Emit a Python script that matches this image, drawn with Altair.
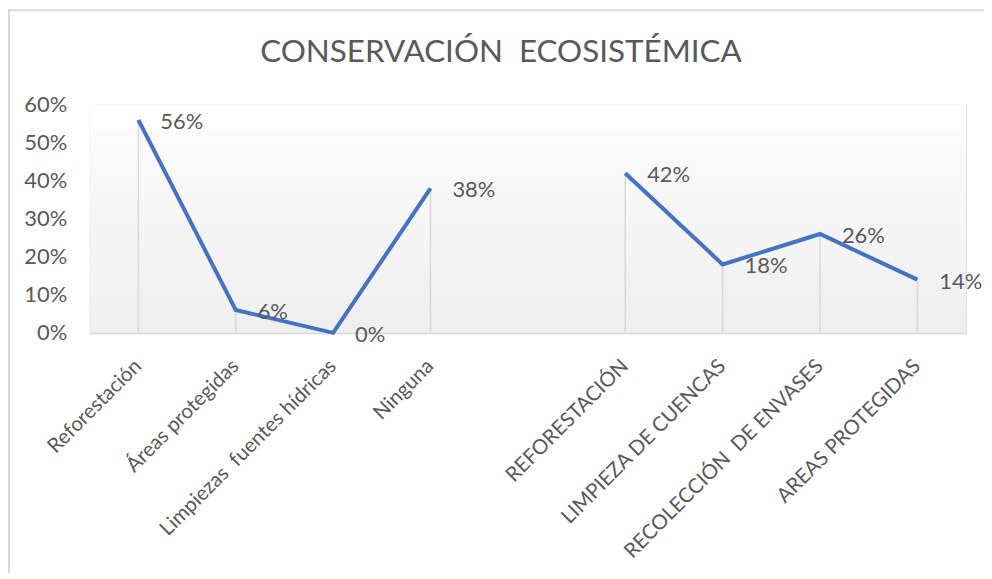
import altair as alt
import pandas as pd

NB = "\u00a0"
# Data
titulo = "CONSERVACIÓN" + NB + " ECOSISTÉMICA"
categorias = ["Reforestación", "Áreas protegidas", "Limpiezas" + NB + " fuentes hídricas", "Ninguna",
              " ",
              "REFORESTACIÓN", "LIMPIEZA DE CUENCAS", "RECOLECCIÓN" + NB + " DE ENVASES", "AREAS PROTEGIDAS"]
puntos_cat = ["Reforestación", "Áreas protegidas", "Limpiezas" + NB + " fuentes hídricas", "Ninguna",
              "REFORESTACIÓN", "LIMPIEZA DE CUENCAS", "RECOLECCIÓN" + NB + " DE ENVASES", "AREAS PROTEGIDAS"]
valores = [0.56, 0.06, 0.00, 0.38, 0.42, 0.18, 0.26, 0.14]
grupos = ["A", "A", "A", "A", "B", "B", "B", "B"]
ticks_y = [0, 0.1, 0.2, 0.3, 0.4, 0.5, 0.6]

df = pd.DataFrame({"cat": puntos_cat, "valor": valores, "grupo": grupos})

FONT = "Lato"
GRIS = "#595959"
AZUL = "#4472C4"
W, H = 880, 229

x_enc = alt.X("cat:N", sort=categorias,
              scale=alt.Scale(domain=categorias, paddingInner=0, paddingOuter=0),
              axis=alt.Axis(title=None, labelAngle=315, labelFontSize=20.5, labelColor=GRIS,
                            labelFont=FONT, ticks=False, domainColor="#d9d9d9",
                            domainWidth=2, labelPadding=30, labelAlign="right",
                            labelBaseline="middle", labelLimit=400))
y_enc = alt.Y("valor:Q", scale=alt.Scale(domain=[0, 0.6], nice=False),
              axis=alt.Axis(title=None, values=ticks_y, format=".0%", labelFontSize=22,
                            labelColor=GRIS, labelFont=FONT, ticks=False, domain=False,
                            grid=False, labelPadding=23))

base = alt.Chart(df)

grad = alt.Gradient(gradient="linear", x1=0, y1=0, x2=0, y2=1,
                    stops=[alt.GradientStop(offset=0, color="#ffffff"),
                           alt.GradientStop(offset=0.1, color="#ffffff"),
                           alt.GradientStop(offset=0.11, color="#fbfbfb"),
                           alt.GradientStop(offset=1, color="#efefef")])
uno = pd.DataFrame({"k": [0]})
fondo = alt.Chart(uno).mark_rect(color=grad).encode(
    x=alt.value(0), x2=alt.value(W), y=alt.value(0), y2=alt.value(H))

drops = base.mark_rule(color="#d9d9d9", strokeWidth=1.5).encode(
    x=x_enc, y=y_enc, y2=alt.datum(0))

line = base.mark_line(color=AZUL, strokeWidth=4).encode(
    x=x_enc, y=y_enc, detail="grupo:N")

labels = base.mark_text(align="left", baseline="middle", dx=22, dy=2, fontSize=22,
                        font=FONT, color=GRIS).encode(
    x=x_enc, y=y_enc, text=alt.Text("valor:Q", format=".0%"))

titulo_mark = alt.Chart(pd.DataFrame({"t": [titulo]})).mark_text(
    align="center", baseline="alphabetic", fontSize=31.5, font=FONT, color=GRIS,
    clip=False).encode(x=alt.value(413), y=alt.value(-43), text="t:N")

frame_left = alt.Chart(uno).mark_rule(
    color="#d9d9d9", strokeWidth=2, clip=False).encode(
    x=alt.value(-81), y=alt.value(-96), y2=alt.value(470))
frame_top = alt.Chart(uno).mark_rule(
    color="#d9d9d9", strokeWidth=2, clip=False).encode(
    x=alt.value(-82), x2=alt.value(900), y=alt.value(-95))

chart = alt.layer(fondo, drops, line, labels, titulo_mark, frame_left, frame_top).properties(
    width=W, height=H,
    autosize=alt.AutoSizeParams(type="none"),
    padding={"left": 82, "top": 96, "right": 18, "bottom": 240},
).configure_view(strokeWidth=0).configure(background="#ffffff")

chart.save("out.html", embed_options={"renderer": "svg", "actions": False})
